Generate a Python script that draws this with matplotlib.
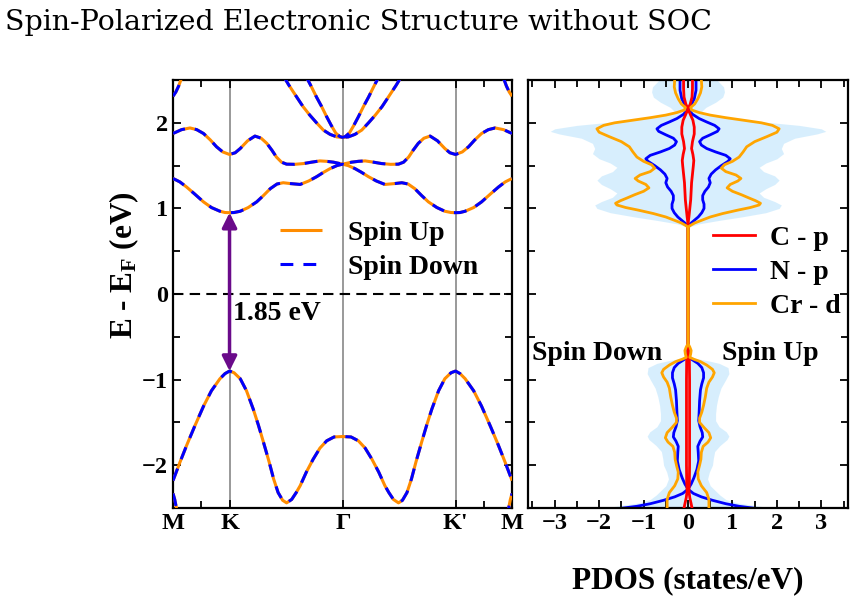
import matplotlib
matplotlib.use("Agg")
import matplotlib.pyplot as plt
from matplotlib.ticker import MultipleLocator, FixedLocator
import numpy as np

# ---- band structure ----
kpath_pos = [0, 1, 3, 5, 6]
kpath_labels = ['M', 'K', r'$\mathbf{\Gamma}$', "K'", 'M']

vb1_k = [0, 0.12, 0.24, 0.38, 0.54, 0.68, 0.83, 0.92, 1.0, 1.08, 1.19, 1.30, 1.42, 1.51, 1.60, 1.70,
         1.78, 1.86, 1.94, 2.01, 2.10, 2.18, 2.25, 2.36, 2.48, 2.60, 2.72, 2.85, 3.0,
         3.15, 3.28, 3.40, 3.52, 3.64, 3.75, 3.82, 3.90, 3.99, 4.06, 4.14, 4.22, 4.30, 4.40, 4.49,
         4.58, 4.70, 4.81, 4.92, 5.0, 5.08, 5.17, 5.32, 5.46, 5.62, 5.76, 5.88, 6.0]
vb1_e = [-2.18, -1.97, -1.77, -1.55, -1.31, -1.13, -0.99, -0.93, -0.90, -0.92, -0.99, -1.13, -1.345,
         -1.53, -1.73, -1.96, -2.16, -2.32, -2.41, -2.44, -2.40, -2.32, -2.24, -2.08, -1.93, -1.80,
         -1.715, -1.67, -1.665,
         -1.67, -1.715, -1.80, -1.93, -2.08, -2.24, -2.32, -2.40, -2.44, -2.41, -2.32, -2.16, -1.96,
         -1.73, -1.53, -1.345, -1.13, -0.99, -0.92, -0.90, -0.93, -0.99, -1.13, -1.31, -1.55, -1.77,
         -1.97, -2.18]

vb2a_k = [0, 0.03, 0.06, 0.09]
vb2a_e = [-2.33, -2.40, -2.50, -2.62]
vb2b_k = [5.91, 5.94, 5.97, 6.0]
vb2b_e = [-2.62, -2.50, -2.40, -2.33]

cb1_k = [0, 0.12, 0.24, 0.38, 0.54, 0.68, 0.83, 0.92, 1.0, 1.08, 1.19, 1.33, 1.48, 1.60, 1.72, 1.84,
         1.95, 2.08, 2.25, 2.40, 2.54, 2.66, 2.78, 2.90, 3.0,
         3.10, 3.22, 3.34, 3.46, 3.60, 3.75, 3.92, 4.05, 4.16, 4.28, 4.40, 4.52, 4.67, 4.81, 4.92,
         5.0, 5.08, 5.17, 5.32, 5.46, 5.62, 5.76, 5.88, 6.0]
cb1_e = [1.35, 1.31, 1.25, 1.17, 1.076, 1.01, 0.967, 0.952, 0.95, 0.952, 0.967, 1.01, 1.076, 1.15,
         1.23, 1.285, 1.30, 1.29, 1.28, 1.32, 1.37, 1.42, 1.465, 1.50, 1.517,
         1.50, 1.465, 1.42, 1.37, 1.32, 1.28, 1.29, 1.30, 1.285, 1.23, 1.15, 1.076, 1.01, 0.967,
         0.952, 0.95, 0.952, 0.967, 1.01, 1.076, 1.17, 1.25, 1.31, 1.35]

cb2_k = [0, 0.15, 0.30, 0.42, 0.54, 0.66, 0.77, 0.88, 1.0, 1.10, 1.19, 1.32, 1.45, 1.56, 1.66, 1.75,
         1.83, 1.92, 2.01, 2.15, 2.31, 2.45, 2.60, 2.72, 2.84, 3.0,
         3.16, 3.28, 3.40, 3.55, 3.69, 3.85, 3.99, 4.08, 4.17, 4.25, 4.34, 4.44, 4.55, 4.68, 4.81,
         4.90, 5.0, 5.12, 5.23, 5.34, 5.46, 5.58, 5.70, 5.85, 6.0]
cb2_e = [1.875, 1.92, 1.94, 1.92, 1.875, 1.80, 1.72, 1.66, 1.63, 1.65, 1.70, 1.79, 1.845, 1.82,
         1.76, 1.68, 1.60, 1.54, 1.517, 1.515, 1.524, 1.54, 1.555, 1.55, 1.54, 1.517,
         1.54, 1.55, 1.555, 1.54, 1.524, 1.515, 1.517, 1.54, 1.60, 1.68, 1.76, 1.82, 1.845, 1.79,
         1.70, 1.65, 1.63, 1.66, 1.72, 1.80, 1.875, 1.92, 1.94, 1.92, 1.875]

cb3_k = [1.95, 2.05, 2.19, 2.30, 2.42, 2.54, 2.66, 2.78, 2.90, 3.0, 3.10, 3.22, 3.34, 3.46, 3.58,
         3.70, 3.81, 3.95, 4.05]
cb3_e = [2.55, 2.44, 2.30, 2.19, 2.09, 2.00, 1.915, 1.865, 1.835, 1.83, 1.835, 1.865, 1.915, 2.00,
         2.09, 2.19, 2.30, 2.44, 2.55]

cb4_k = [2.34, 2.45, 2.54, 2.63, 2.72, 2.80, 2.88, 2.95, 3.0, 3.05, 3.12, 3.20, 3.28, 3.37, 3.46,
         3.55, 3.66]
cb4_e = [2.56, 2.42, 2.30, 2.19, 2.07, 1.97, 1.88, 1.84, 1.83, 1.84, 1.88, 1.97, 2.07, 2.19, 2.30,
         2.42, 2.56]

cb5a_k = [0, 0.05, 0.10, 0.15]
cb5a_e = [2.31, 2.36, 2.43, 2.52]
cb5b_k = [5.85, 5.90, 5.95, 6.0]
cb5b_e = [2.52, 2.43, 2.36, 2.31]

bands = [(vb1_k, vb1_e), (vb2a_k, vb2a_e), (vb2b_k, vb2b_e), (cb1_k, cb1_e), (cb2_k, cb2_e),
         (cb3_k, cb3_e), (cb4_k, cb4_e), (cb5a_k, cb5a_e), (cb5b_k, cb5b_e)]

vbm = -0.90
cbm = 0.95

# ---- PDOS (spin up and spin down have the same magnitude) ----
crd_e = [-2.5, -2.40, -2.32, -2.24, -2.16, -2.08, -2.0, -1.93, -1.85, -1.78, -1.73, -1.68, -1.62,
         -1.56, -1.50, -1.45, -1.38, -1.30, -1.20, -1.10, -1.03, -0.97, -0.92, -0.88, -0.83, -0.79,
         -0.76, -0.74, -0.70, -0.66, -0.62, -0.58,
         0.78, 0.80, 0.83, 0.86, 0.90, 0.94, 0.98, 1.01, 1.04, 1.06, 1.09, 1.12, 1.16, 1.20, 1.24,
         1.28, 1.32, 1.35, 1.39, 1.43, 1.47, 1.51, 1.55, 1.60, 1.66, 1.72, 1.78, 1.84, 1.89, 1.93,
         1.97, 2.00, 2.03, 2.06, 2.09, 2.12, 2.15, 2.18, 2.22, 2.28, 2.35, 2.42, 2.5]
crd_v = [0.47, 0.47, 0.42, 0.30, 0.23, 0.22, 0.26, 0.29, 0.30, 0.34, 0.45, 0.51, 0.47,
         0.36, 0.26, 0.26, 0.31, 0.35, 0.39, 0.42, 0.47, 0.55, 0.59, 0.55, 0.42, 0.28,
         0.12, 0.04, 0.06, 0.07, 0.04, 0.0,
         0.0, 0.05, 0.15, 0.30, 0.50, 0.78, 1.12, 1.40, 1.60, 1.63, 1.52, 1.38, 1.20, 1.00, 0.88,
         0.95, 1.12, 1.19, 1.08, 0.85, 0.75, 0.82, 1.00, 1.15, 1.24, 1.32, 1.50, 1.78, 2.00, 2.05,
         1.90, 1.65, 1.25, 0.85, 0.50, 0.25, 0.08, 0.06, 0.15, 0.22, 0.28, 0.31, 0.30]

np_e = [-2.5, -2.48, -2.45, -2.41, -2.37, -2.33, -2.28, -2.22, -2.15, -2.05, -1.95, -1.85, -1.78,
        -1.72, -1.67, -1.62, -1.55, -1.48, -1.38, -1.25, -1.12, -1.05, -0.98, -0.92, -0.86, -0.81,
        -0.77, -0.74, -0.68,
        0.78, 0.82, 0.86, 0.90, 0.95, 1.00, 1.05, 1.10, 1.15, 1.20, 1.25, 1.30, 1.35, 1.40, 1.45,
        1.50, 1.55, 1.58, 1.62, 1.66, 1.70, 1.74, 1.78, 1.82, 1.86, 1.90, 1.93, 1.97, 2.01, 2.05,
        2.10, 2.16, 2.22, 2.28, 2.38, 2.5]
np_v = [1.45, 1.15, 0.85, 0.55, 0.30, 0.12, 0.0, 0.07, 0.13, 0.20, 0.24, 0.23, 0.22,
        0.27, 0.33, 0.32, 0.27, 0.24, 0.25, 0.26, 0.28, 0.31, 0.35, 0.35, 0.31, 0.22,
        0.10, 0.02, 0.0,
        0.0, 0.05, 0.14, 0.23, 0.31, 0.36, 0.36, 0.33, 0.33, 0.38, 0.46, 0.50, 0.47, 0.52, 0.62,
        0.75, 0.90, 0.95, 0.85, 0.62, 0.42, 0.30, 0.26, 0.33, 0.50, 0.66, 0.70, 0.60, 0.42, 0.25,
        0.10, 0.0, 0.08, 0.14, 0.18, 0.18]

cp_e = [-2.5, -2.45, -2.38, -2.3, -2.2, -2.0, -1.5, -1.0, -0.76, -0.72,
        0.82, 0.9, 1.0, 1.1, 1.2, 1.3, 1.4, 1.5, 1.56, 1.63, 1.70, 1.78, 1.87, 1.95, 2.03, 2.10,
        2.16, 2.22, 2.30, 2.40, 2.5]
cp_v = [0.09, 0.07, 0.04, 0.02, 0.03, 0.035, 0.035, 0.035, 0.03, 0.0,
        0.0, 0.02, 0.04, 0.06, 0.07, 0.08, 0.10, 0.12, 0.13, 0.11, 0.08, 0.10, 0.14, 0.14, 0.11,
        0.05, 0.0, 0.05, 0.09, 0.10, 0.10]

tot_e = [-2.5, -2.47, -2.44, -2.40, -2.35, -2.30, -2.24, -2.16, -2.08, -2.0, -1.92, -1.84, -1.77,
         -1.70, -1.66, -1.61, -1.55, -1.48, -1.40, -1.30, -1.20, -1.10, -1.0, -0.93, -0.86, -0.81,
         -0.78, -0.75, -0.72, -0.66, -0.60, -0.58,
         0.78, 0.82, 0.86, 0.90, 0.95, 1.0, 1.04, 1.08, 1.13, 1.18, 1.23, 1.28, 1.33, 1.38, 1.43,
         1.48, 1.53, 1.58, 1.64, 1.70, 1.76, 1.82, 1.87, 1.90, 1.93, 1.97, 2.01, 2.05, 2.09, 2.13,
         2.18, 2.24, 2.30, 2.36, 2.42, 2.5]
tot_v = [1.9, 1.5, 1.1, 0.85, 0.72, 0.62, 0.50, 0.44, 0.48, 0.55, 0.57, 0.60, 0.72,
         0.88, 0.92, 0.86, 0.70, 0.62, 0.62, 0.64, 0.68, 0.74, 0.85, 0.92, 0.90, 0.70,
         0.45, 0.15, 0.06, 0.08, 0.02, 0.0,
         0.0, 0.25, 0.70, 1.20, 1.75, 2.05, 2.10, 1.95, 1.70, 1.60, 1.75, 1.95, 2.05, 1.95, 1.70,
         1.60, 1.75, 2.00, 2.15, 2.10, 2.15, 2.40, 2.90, 3.10, 3.00, 2.50, 1.70, 1.00, 0.50, 0.30,
         0.40, 0.62, 0.78, 0.82, 0.80, 0.65]

# ---- style ----
plt.rcParams['font.family'] = ['Liberation Serif', 'DejaVu Serif']
plt.rcParams['font.weight'] = 'bold'
plt.rcParams['mathtext.fontset'] = 'custom'
plt.rcParams['mathtext.rm'] = 'Liberation Serif:bold'
plt.rcParams['mathtext.bf'] = 'Liberation Serif:bold'
plt.rcParams['mathtext.it'] = 'Liberation Serif:bold'
plt.rcParams['axes.linewidth'] = 1.6

orange_band = '#FF8C00'
fs_tick = 17.5
fs_lab = 22.5
fs_leg = 20

fig = plt.figure(figsize=(8.54, 5.98), dpi=100)
ax1 = fig.add_axes([0.2026, 0.1505, 0.3970, 0.7157])
ax2 = fig.add_axes([0.6183, 0.1505, 0.3747, 0.7157])

# band structure
for i, (k, e) in enumerate(bands):
    ax1.plot(k, e, color=orange_band, lw=2.2, solid_capstyle='butt',
             label='Spin Up' if i == 0 else None, zorder=3)
for i, (k, e) in enumerate(bands):
    ax1.plot(k, e, color='#0000FF', lw=2.2, ls=(0, (4.2, 3.3)),
             label='Spin Down' if i == 0 else None, zorder=4)

for xp in kpath_pos[1:-1]:
    ax1.axvline(xp, color='#888888', lw=1.2, zorder=1)
ax1.axhline(0, color='black', lw=1.5, ls=(0, (5, 3)), zorder=2)

ax1.annotate('', xy=(1, cbm), xytext=(1, vbm),
             arrowprops=dict(arrowstyle='<|-|>', color='#6a0a8a', lw=2.5,
                             mutation_scale=22, shrinkA=0, shrinkB=0), zorder=5)
ax1.text(1.06, -0.23, '1.85 eV', fontsize=fs_leg, fontweight='bold', va='center', ha='left')

ax1.set_xlim(0, 6)
ax1.set_ylim(-2.5, 2.5)
ax1.set_xticks(kpath_pos)
ax1.set_xticklabels(kpath_labels)
ax1.xaxis.set_minor_locator(FixedLocator([0.5, 5.5]))
ax1.yaxis.set_major_locator(MultipleLocator(1))
ax1.yaxis.set_minor_locator(MultipleLocator(0.5))
ax1.set_ylabel(r'E - E$_\mathbf{F}$ (eV)', fontsize=fs_lab, fontweight='bold')
ax1.yaxis.set_label_coords(-0.094, 0.568)

ax1.legend(loc='upper left', bbox_to_anchor=(0.3156, 0.672), frameon=False, borderpad=0,
           borderaxespad=0, fontsize=fs_leg, handlelength=1.5, handletextpad=0.95,
           labelspacing=0.3)

# PDOS
ax2.fill_betweenx(tot_e, -np.array(tot_v), tot_v, color='#87CEFA', alpha=0.33, lw=0, zorder=1)
for sign in (1, -1):
    ax2.plot(sign * np.array(np_v), np_e, color='#0000FF', lw=2.0, zorder=2,
             label='N - p' if sign == 1 else None)
    ax2.plot(sign * np.array(cp_v), cp_e, color='red', lw=2.0, zorder=3,
             label='C - p' if sign == 1 else None)
    ax2.plot(sign * np.array(crd_v), crd_e, color='orange', lw=2.0, zorder=4,
             label='Cr - d' if sign == 1 else None)

ax2.set_xlim(-3.6, 3.6)
ax2.set_ylim(-2.5, 2.5)
ax2.xaxis.set_major_locator(MultipleLocator(1))
ax2.xaxis.set_minor_locator(MultipleLocator(0.5))
ax2.yaxis.set_major_locator(MultipleLocator(1))
ax2.yaxis.set_minor_locator(MultipleLocator(0.5))
ax2.set_yticklabels([])
ax2.set_xlabel('PDOS (states/eV)', fontsize=fs_lab, fontweight='bold')
ax2.xaxis.set_label_coords(0.5, -0.135)
ax2.text(-3.52, -0.70, 'Spin Down', fontsize=fs_leg, fontweight='bold', va='center', ha='left')
ax2.text(0.76, -0.70, 'Spin Up', fontsize=fs_leg, fontweight='bold', va='center', ha='left')

h, l = ax2.get_legend_handles_labels()
order = [l.index('C - p'), l.index('N - p'), l.index('Cr - d')]
ax2.legend([h[i] for i in order], [l[i] for i in order], loc='upper left',
           bbox_to_anchor=(0.578, 0.66), frameon=False, borderpad=0, borderaxespad=0,
           fontsize=fs_leg, handlelength=1.5, handletextpad=0.55, labelspacing=0.3)

for ax in (ax1, ax2):
    ax.tick_params(which='both', direction='in', top=True, right=True, width=1.3,
                   labelsize=fs_tick)
    ax.tick_params(which='major', length=6)
    ax.tick_params(which='minor', length=5)
    for lab in ax.get_xticklabels() + ax.get_yticklabels():
        lab.set_fontweight('bold')

fig.text(0.006, 0.985, 'Spin-Polarized Electronic Structure without SOC', fontsize=20.5,
         family='DejaVu Serif', fontweight='normal', va='top', ha='left')

fig.savefig('out.png', dpi=100)
